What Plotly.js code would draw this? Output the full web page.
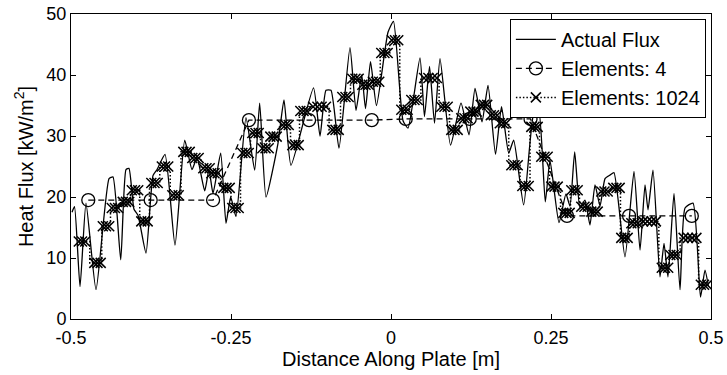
<!DOCTYPE html>
<html>
<head>
<meta charset="utf-8">
<script src="https://cdn.plot.ly/plotly-3.0.1.min.js"></script>
<style>html,body{margin:0;padding:0;background:#fff;}#chart{width:727px;height:375px;}</style>
</head>
<body>
<div id="chart"></div>
<script>
// Actual flux
var fluxX = [-0.4984,-0.4945,-0.4859,-0.4766,-0.4609,-0.4406,-0.4344,-0.4223,-0.4141,-0.4094,
  -0.4016,-0.3953,-0.3828,-0.3719,-0.3656,-0.3531,-0.3375,-0.3223,-0.3109,-0.3031,
  -0.2911,-0.2844,-0.2781,-0.2661,-0.2578,-0.2505,-0.2422,-0.2266,-0.2130,-0.2052,
  -0.1953,-0.1766,-0.1672,-0.1563,-0.1211,-0.1109,-0.1016,-0.0938,-0.0813,-0.0641,
  -0.0547,-0.0458,-0.0398,-0.0320,-0.0227,-0.0047,0.0039,0.0188,0.0266,0.0453,
  0.0523,0.0602,0.0680,0.0766,0.0930,0.1094,0.1219,0.1313,0.1422,0.1516,
  0.1633,0.1727,0.1839,0.1917,0.2073,0.2230,0.2305,0.2411,0.2484,0.2625,
  0.2734,0.2797,0.2870,0.2953,0.3031,0.3109,0.3188,0.3266,0.3344,0.3422,
  0.3484,0.3656,0.3797,0.3891,0.3969,0.4016,0.4094,0.4203,0.4266,0.4328,
  0.4422,0.4516,0.4594,0.4719,0.4836,0.4906,0.4961];
var fluxY = [17.5,18.4,5.3,19.0,4.8,23.0,23.3,9.7,24.5,24.7,
  18.0,17.0,10.8,23.5,24.5,27.0,12.1,29.3,24.5,26.5,
  21.0,24.5,20.6,27.2,15.7,20.0,16.8,33.0,24.4,35.4,
  20.0,28.8,35.9,25.2,37.9,30.0,37.5,37.5,28.0,44.5,
  34.2,40.0,34.5,42.2,35.0,47.0,48.8,32.5,31.3,42.8,
  33.2,41.4,32.1,42.7,28.5,35.4,30.2,37.8,32.3,38.3,
  27.0,34.8,27.2,29.3,18.7,33.8,34.5,19.2,26.0,15.8,
  20.5,18.5,27.4,18.2,19.5,15.4,22.0,18.5,23.0,23.6,
  24.0,10.2,24.2,11.3,22.0,17.9,24.4,6.9,12.4,6.9,
  20.6,4.8,18.2,19.0,3.6,8.0,5.3];

// Elements: 4
var e4X = [-0.473,-0.3755,-0.278,-0.222,-0.128,-0.030,0.023,0.123,0.218,0.275,0.372,0.470];
var e4Y = [19.5,19.5,19.5,32.6,32.6,32.6,32.8,32.8,32.8,16.9,16.9,16.9];

// Elements: 1024
var e1024X = [-0.4878,-0.4828,-0.4778, -0.4636,-0.4586,-0.4536, -0.4503,-0.4453,-0.4403,
  -0.4363,-0.4313,-0.4263, -0.4191,-0.4141,-0.4091, -0.4050,-0.4000,-0.3950,
  -0.3902,-0.3852,-0.3802, -0.3745,-0.3695,-0.3645, -0.3581,-0.3531,-0.3481,
  -0.3417,-0.3367,-0.3317, -0.3245,-0.3195,-0.3145, -0.3105,-0.3055,-0.3005,
  -0.2933,-0.2883,-0.2833, -0.2808,-0.2758,-0.2708, -0.2620,-0.2570,-0.2520,
  -0.2480,-0.2430,-0.2380, -0.2323,-0.2273,-0.2223, -0.2167,-0.2117,-0.2067,
  -0.2011,-0.1961,-0.1911, -0.1886,-0.1836,-0.1786, -0.1698,-0.1648,-0.1598,
  -0.1542,-0.1492,-0.1442, -0.1417,-0.1367,-0.1317, -0.1217,-0.1150,-0.1084,-0.1017,
  -0.0917,-0.0867,-0.0817, -0.0761,-0.0711,-0.0661, -0.0605,-0.0555,-0.0505,
  -0.0448,-0.0398,-0.0348, -0.0284,-0.0234,-0.0184, -0.0152,-0.0102,-0.0052,
  0.0013,0.0063,0.0113, 0.0161,0.0211,0.0261, 0.0317,0.0367,0.0417,
  0.0517,0.0584,0.0650,0.0717, 0.0786,0.0836,0.0886, 0.0942,0.0992,0.1042,
  0.1098,0.1148,0.1198, 0.1239,0.1289,0.1339, 0.1403,0.1453,0.1503,
  0.1559,0.1609,0.1659, 0.1700,0.1750,0.1800, 0.1880,0.1930,0.1980,
  0.2052,0.2102,0.2152, 0.2192,0.2242,0.2292, 0.2348,0.2398,0.2448,
  0.2505,0.2555,0.2605, 0.2692,0.2742,0.2792, 0.2817,0.2867,0.2917,
  0.2973,0.3023,0.3073, 0.3130,0.3180,0.3230, 0.3286,0.3336,0.3386,
  0.3473,0.3523,0.3573, 0.3598,0.3648,0.3698, 0.3755,0.3805,0.3855,
  0.3939,0.4006,0.4072,0.4139, 0.4231,0.4281,0.4331, 0.4364,0.4414,0.4464,
  0.4572,0.4639,0.4705,0.4772, 0.4841,0.4891,0.4941];
var e1024Y = [12.7,12.7,12.7, 9.2,9.2,9.2, 15.2,15.2,15.2,
  18.2,18.2,18.2, 19.2,19.2,19.2, 21.1,21.1,21.1,
  16.0,16.0,16.0, 22.3,22.3,22.3, 25.0,25.0,25.0,
  20.3,20.3,20.3, 27.4,27.4,27.4, 26.4,26.4,26.4,
  24.7,24.7,24.7, 23.9,23.9,23.9, 21.5,21.5,21.5,
  18.2,18.2,18.2, 27.2,27.2,27.2, 30.5,30.5,30.5,
  28.0,28.0,28.0, 29.9,29.9,29.9, 31.8,31.8,31.8,
  28.5,28.5,28.5, 34.1,34.1,34.1, 34.8,34.8,34.8,34.8,
  31.0,31.0,31.0, 36.4,36.4,36.4, 39.4,39.4,39.4,
  38.4,38.4,38.4, 38.9,38.9,38.9, 43.6,43.6,43.6,
  45.7,45.7,45.7, 34.3,34.3,34.3, 35.9,35.9,35.9,
  39.5,39.5,39.5,39.5, 34.8,34.8,34.8, 31.0,31.0,31.0,
  32.9,32.9,32.9, 34.0,34.0,34.0, 35.1,35.1,35.1,
  33.4,33.4,33.4, 32.1,32.1,32.1, 25.2,25.2,25.2,
  21.8,21.8,21.8, 31.5,31.5,31.5, 26.6,26.6,26.6,
  21.7,21.7,21.7, 17.4,17.4,17.4, 21.1,21.1,21.1,
  18.4,18.4,18.4, 17.6,17.6,17.6, 20.9,20.9,20.9,
  21.5,21.5,21.5, 13.3,13.3,13.3, 15.7,15.7,15.7,
  16.0,16.0,16.0,16.0, 8.4,8.4,8.4, 10.5,10.5,10.5,
  13.3,13.3,13.3,13.3, 5.6,5.6,5.6];

var xTickVals = [-0.5,-0.25,0,0.25,0.5];
var xTickText = ['-0.5','-0.25','0','0.25','0.5'];
var yTickVals = [0,10,20,30,40,50];

var FONT = 'Liberation Sans, Arial, Helvetica, sans-serif';

var traces = [
  {x: fluxX, y: fluxY, name: 'Actual Flux', type: 'scatter', mode: 'lines',
   line: {color: '#000', width: 1.3, shape: 'spline', smoothing: 0.5}},
  {x: e4X, y: e4Y, name: 'Elements: 4', type: 'scatter', mode: 'lines+markers',
   line: {color: '#000', width: 1.3, dash: '6px,4px'},
   marker: {symbol: 'circle-open', size: 13, color: '#000', line: {color: '#000', width: 1.3}}},
  {x: e1024X, y: e1024Y, name: 'Elements: 1024', type: 'scatter', mode: 'lines+markers',
   line: {color: '#000', width: 1.5, dash: '1.5px,2px', shape: 'hvh'},
   marker: {symbol: 'x-thin', size: 10, color: '#000', line: {color: '#000', width: 1.5}}}
];

var axisCommon = {
  showline: true, linecolor: '#000', linewidth: 1, mirror: 'ticks',
  ticks: 'inside', ticklen: 5, tickwidth: 1, tickcolor: '#000',
  showgrid: false, zeroline: false,
  tickfont: {family: FONT, size: 18, color: '#000'}
};

var layout = {
  width: 727, height: 375,
  margin: {l: 71, r: 16, t: 14, b: 56},
  paper_bgcolor: '#fff', plot_bgcolor: '#fff',
  font: {family: FONT, color: '#000'},
  showlegend: true,
  legend: {x: 0.992, y: 0.984, xanchor: 'right', yanchor: 'top',
    bgcolor: '#fff', bordercolor: '#000', borderwidth: 1,
    font: {family: FONT, size: 20, color: '#000'}, itemwidth: 40,
    tracegroupgap: 0},
  xaxis: Object.assign({}, axisCommon, {
    range: [-0.5, 0.5], tickmode: 'array', tickvals: xTickVals, ticktext: xTickText,
    ticklabelstandoff: 2,
    title: {text: 'Distance Along Plate [m]', font: {family: FONT, size: 20, color: '#000'}, standoff: 1}
  }),
  yaxis: Object.assign({}, axisCommon, {
    range: [0, 50], tickmode: 'array', tickvals: yTickVals,
    title: {text: 'Heat Flux [kW/m<sup>2</sup>]', font: {family: FONT, size: 20, color: '#000'}, standoff: 7}
  })
};

Plotly.newPlot('chart', traces, layout, {displayModeBar: false, staticPlot: true});
</script>
</body>
</html>
